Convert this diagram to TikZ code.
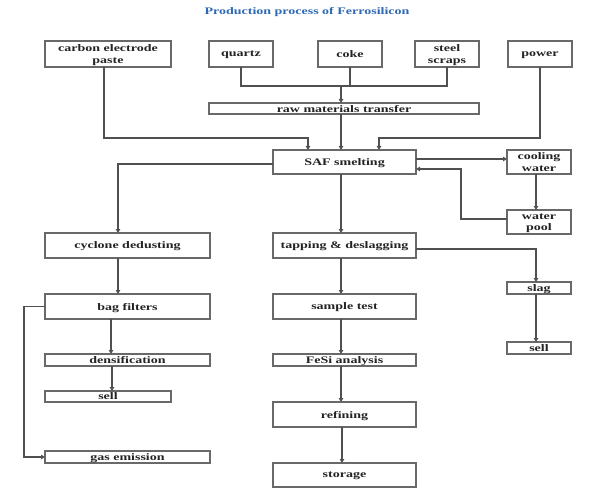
\documentclass[tikz,border=0pt]{standalone}
\usepackage{fontspec}
\usetikzlibrary{arrows.meta}
\newfontfamily\boxfont{Liberation Serif}[FakeStretch=1.4]
\definecolor{boxgray}{RGB}{105,105,105}
\definecolor{linegray}{RGB}{80,80,80}
\definecolor{txtgray}{RGB}{35,35,35}
\definecolor{titleblue}{RGB}{45,105,180}
\tikzset{
  box/.style={draw=boxgray, line width=1.3pt, inner sep=0pt, outer sep=0pt, align=center,
    text depth=0pt, font=\boxfont\bfseries\fontsize{10}{11.5}\selectfont, text=txtgray},
  ttl/.style={inner sep=0pt, font=\boxfont\bfseries\fontsize{10}{12}\selectfont, text=titleblue},
  conn/.style={draw=linegray, line width=1.2pt},
  arr/.style={conn, -{Triangle[length=4pt,width=4.5pt]}}
}
\begin{document}
\begin{tikzpicture}[x=1pt,y=-1pt]
\useasboundingbox[fill=white] (0,0) rectangle (600,500);
\node[ttl] (title) at (307,12) {Production process of Ferrosilicon};
% top row
\node[box, minimum width=126pt, minimum height=26pt] (carbon) at (108,54) {carbon electrode\\paste};
\node[box, minimum width=64pt, minimum height=26pt] (quartz) at (241,54) {quartz};
\node[box, minimum width=64pt, minimum height=26pt] (coke) at (350,54) {coke};
\node[box, minimum width=64pt, minimum height=26pt] (steel) at (447,54) {steel\\scraps};
\node[box, minimum width=64pt, minimum height=26pt] (power) at (540,54) {power};
\node[box, minimum width=270pt, minimum height=11pt] (raw) at (344,108.5) {raw materials transfer};
% middle
\node[box, minimum width=143pt, minimum height=24pt] (saf) at (344.5,162) {SAF smelting};
\node[box, minimum width=64pt, minimum height=24pt] (cooling) at (539,162) {cooling\\water};
\node[box, minimum width=64pt, minimum height=24pt] (pool) at (539,222) {water\\pool};
\node[box, minimum width=165pt, minimum height=25pt] (cyclone) at (127.5,245.5) {cyclone dedusting};
\node[box, minimum width=143pt, minimum height=25pt] (tapping) at (344.5,245.5) {tapping \& deslagging};
\node[box, minimum width=64pt, minimum height=12pt] (slag) at (539,288) {slag};
\node[box, minimum width=64pt, minimum height=12pt] (sellR) at (539,348) {sell};
\node[box, minimum width=165pt, minimum height=25pt] (bag) at (127.5,306.5) {bag filters};
\node[box, minimum width=143pt, minimum height=25pt] (sample) at (344.5,306.5) {sample test};
\node[box, minimum width=165pt, minimum height=12pt] (dens) at (127.5,360) {densification};
\node[box, minimum width=143pt, minimum height=12pt] (fesi) at (344.5,360) {FeSi analysis};
\node[box, minimum width=126pt, minimum height=11pt] (sellL) at (108,396.5) {sell};
\node[box, minimum width=143pt, minimum height=25pt] (refining) at (344.5,414.5) {refining};
\node[box, minimum width=165pt, minimum height=12pt] (gas) at (127.5,457) {gas emission};
\node[box, minimum width=143pt, minimum height=24pt] (storage) at (344.5,475) {storage};
% helper coordinates
\coordinate (bus) at (341,86);
\coordinate (ret) at (461,169);
% connectors
\draw[arr] ([xshift=-4pt]carbon.south) -- ++(0,71) -| ([xshift=-36.5pt]saf.north);
\draw[conn] (quartz.south) |- (bus) -| (steel.south);
\draw[conn] (coke.south) -- (coke.south |- bus);
\draw[arr] (bus) -- (bus |- raw.north);
\draw[arr] (raw.south -| bus) -- (saf.north -| bus);
\draw[arr] (power.south) -- ++(0,71) -| ([xshift=34.5pt]saf.north);
\draw[arr] ([yshift=3pt]saf.east) -- ([yshift=3pt]cooling.west);
\draw[arr] ([xshift=-3pt]cooling.south) -- ([xshift=-3pt]pool.north);
\draw[arr] ([yshift=3pt]pool.west) -| (ret) -- (ret -| saf.east);
\draw[arr] ([yshift=-2pt]saf.west) -| ([xshift=-9.5pt]cyclone.north);
\draw[arr] (saf.south -| bus) -- (tapping.north -| bus);
\draw[arr] ([yshift=-3.5pt]tapping.east) -| ([xshift=-3pt]slag.north);
\draw[arr] ([xshift=-3pt]slag.south) -- ([xshift=-3pt]sellR.north);
\draw[arr] ([xshift=-9.5pt]cyclone.south) -- ([xshift=-9.5pt]bag.north);
\draw[arr] ([xshift=-16.5pt]bag.south) -- ([xshift=-16.5pt]dens.north);
\draw[arr] ([xshift=-15.5pt]dens.south) -- ([xshift=-15.5pt]dens.south |- sellL.north);
\draw[arr] (bag.west) -- ++(-21,0) |- (gas.west);
\draw[arr] (tapping.south -| bus) -- (sample.north -| bus);
\draw[arr] (sample.south -| bus) -- (fesi.north -| bus);
\draw[arr] (fesi.south -| bus) -- (refining.north -| bus);
\draw[arr] ([xshift=-2.5pt]refining.south) -- ([xshift=-2.5pt]storage.north);
\end{tikzpicture}
\end{document}
